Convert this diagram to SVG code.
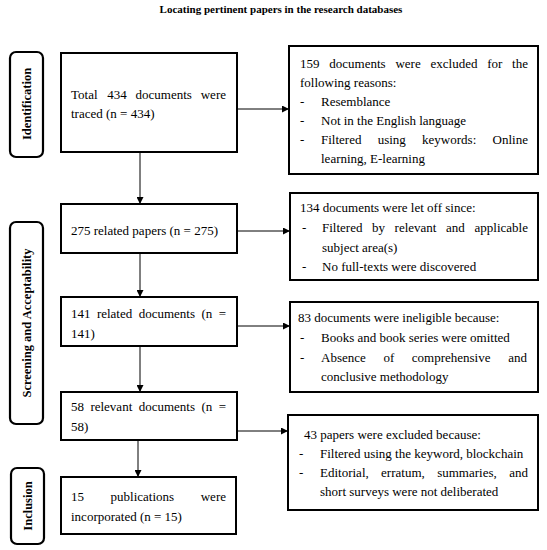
<svg xmlns="http://www.w3.org/2000/svg" width="547" height="550" viewBox="0 0 547 550">
<style>
.box{fill:#fff;stroke:#000;stroke-width:2}
.lab{fill:#fff;stroke:#000;stroke-width:2.2}
.t{font-family:"Liberation Serif","DejaVu Serif",serif;font-size:13px;fill:#000}
.e{text-anchor:end}
.tl{font-family:"Liberation Serif","DejaVu Serif",serif;font-size:12.5px;font-weight:bold;fill:#000}
.title{font-family:"Liberation Serif","DejaVu Serif",serif;font-size:11px;font-weight:bold;fill:#000}
.c{stroke:#000;stroke-width:1;fill:none}
</style>
<defs>
<marker id="ah" viewBox="0 0 10 10" refX="10" refY="5" markerWidth="7" markerHeight="7" markerUnits="userSpaceOnUse" orient="auto">
<path d="M0,0 L10,5 L0,10 z" fill="#000"/>
</marker>
</defs>
<rect width="547" height="550" fill="#fff"/>
<text class="title" x="281" y="13" text-anchor="middle">Locating pertinent papers in the research databases</text>

<g id="label-identification">
<rect class="lab" x="10" y="52" width="33" height="105" rx="6"/>
<text class="tl" transform="translate(31,104) rotate(-90)" text-anchor="middle">Identification</text>
</g>
<g id="label-screening">
<rect class="lab" x="10" y="222" width="33" height="202" rx="6"/>
<text class="tl" transform="translate(31,323) rotate(-90)" text-anchor="middle">Screening and Acceptability</text>
</g>
<g id="label-inclusion">
<rect class="lab" x="11" y="468" width="33" height="76" rx="6"/>
<text class="tl" transform="translate(32,506) rotate(-90)" text-anchor="middle">Inclusion</text>
</g>

<g id="connectors">
<line class="c" x1="140" y1="152" x2="140" y2="204" marker-end="url(#ah)"/>
<line class="c" x1="140" y1="253" x2="140" y2="297" marker-end="url(#ah)"/>
<line class="c" x1="140" y1="346" x2="140" y2="392" marker-end="url(#ah)"/>
<line class="c" x1="138" y1="440" x2="138" y2="477" marker-end="url(#ah)"/>
<line class="c" x1="237" y1="109" x2="289" y2="109" marker-end="url(#ah)"/>
<line class="c" x1="237" y1="231" x2="290" y2="231" marker-end="url(#ah)"/>
<line class="c" x1="237" y1="326" x2="290" y2="326" marker-end="url(#ah)"/>
<line class="c" x1="237" y1="431" x2="288" y2="431" marker-end="url(#ah)"/>
</g>

<g id="box-total">
<rect class="box" x="61" y="53" width="176" height="99"/>
<text class="t" x="71" y="99">Total</text><text class="t" x="107.3" y="99">434</text><text class="t" x="135.6" y="99">documents</text><text class="t e" x="226" y="99">were</text>
<text class="t" x="71" y="118">traced (n = 434)</text>
</g>
<g id="box-275">
<rect class="box" x="61" y="204" width="176" height="49"/>
<text class="t" x="71" y="235">275 related papers (n = 275)</text>
</g>
<g id="box-141">
<rect class="box" x="61" y="297" width="176" height="49"/>
<text class="t" x="71" y="318">141</text><text class="t" x="96.9" y="318">related</text><text class="t" x="138.7" y="318">documents</text><text class="t" x="201.4" y="318">(n</text><text class="t e" x="226" y="318">=</text>
<text class="t" x="71" y="338">141)</text>
</g>
<g id="box-58">
<rect class="box" x="61" y="392" width="176" height="48"/>
<text class="t" x="71" y="411">58</text><text class="t" x="90.4" y="411">relevant</text><text class="t" x="138.7" y="411">documents</text><text class="t" x="201.4" y="411">(n</text><text class="t e" x="226" y="411">=</text>
<text class="t" x="71" y="431">58)</text>
</g>
<g id="box-15">
<rect class="box" x="61" y="477" width="175" height="57"/>
<text class="t" x="71" y="501">15</text><text class="t" x="110.6" y="501">publications</text><text class="t e" x="226" y="501">were</text>
<text class="t" x="71" y="521">incorporated (n = 15)</text>
</g>

<g id="box-excl-159">
<rect class="box" x="289" y="46" width="249" height="128"/>
<text class="t" x="300" y="68">159</text><text class="t" x="329.3" y="68">documents</text><text class="t" x="395.4" y="68">were</text><text class="t" x="430.5" y="68">excluded</text><text class="t" x="487.2" y="68">for</text><text class="t e" x="528" y="68">the</text>
<text class="t" x="300" y="87">following reasons:</text>
<text class="t" x="300" y="106">-</text><text class="t" x="321" y="106">Resemblance</text>
<text class="t" x="300" y="125">-</text><text class="t" x="321" y="125">Not in the English language</text>
<text class="t" x="300" y="144">-</text><text class="t" x="321" y="144">Filtered</text><text class="t" x="377.7" y="144">using</text><text class="t" x="422.1" y="144">keywords:</text><text class="t e" x="528" y="144">Online</text>
<text class="t" x="321" y="163">learning, E-learning</text>
</g>
<g id="box-excl-134">
<rect class="box" x="290" y="193" width="248" height="87"/>
<text class="t" x="300" y="212">134 documents were let off since:</text>
<text class="t" x="302" y="232">-</text><text class="t" x="322" y="232">Filtered</text><text class="t" x="372" y="232">by</text><text class="t" x="394.6" y="232">relevant</text><text class="t" x="446.1" y="232">and</text><text class="t e" x="528" y="232">applicable</text>
<text class="t" x="322" y="252">subject area(s)</text>
<text class="t" x="302" y="271">-</text><text class="t" x="322" y="271">No full-texts were discovered</text>
</g>
<g id="box-excl-83">
<rect class="box" x="290" y="302" width="248" height="90"/>
<text class="t" x="298" y="322">83 documents were ineligible because:</text>
<text class="t" x="300" y="342">-</text><text class="t" x="321" y="342">Books and book series were omitted</text>
<text class="t" x="300" y="362">-</text><text class="t" x="321" y="362">Absence</text><text class="t" x="383.4" y="362">of</text><text class="t" x="411.8" y="362">comprehensive</text><text class="t e" x="527" y="362">and</text>
<text class="t" x="321" y="381">conclusive methodology</text>
</g>
<g id="box-excl-43">
<rect class="box" x="288" y="415" width="250" height="95"/>
<text class="t" x="304" y="439">43 papers were excluded because:</text>
<text class="t" x="299" y="458">-</text><text class="t" x="320" y="458">Filtered using the keyword, blockchain</text>
<text class="t" x="299" y="477">-</text><text class="t" x="320" y="477">Editorial,</text><text class="t" x="381.1" y="477">erratum,</text><text class="t" x="437.2" y="477">summaries,</text><text class="t e" x="528" y="477">and</text>
<text class="t" x="320" y="496">short surveys were not deliberated</text>
</g>
</svg>
